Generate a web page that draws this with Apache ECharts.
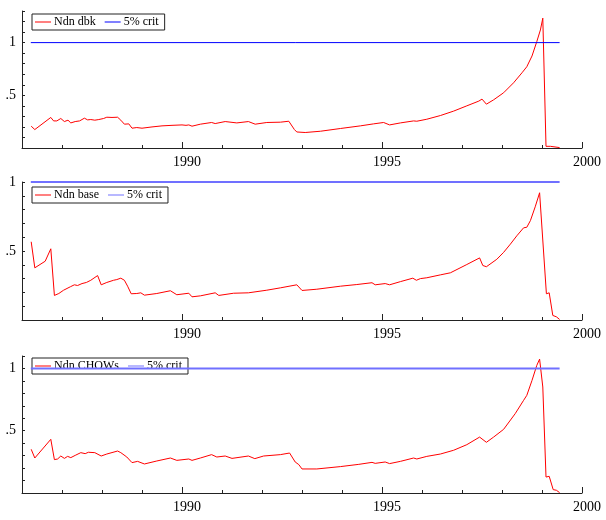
<!DOCTYPE html>
<html>
<head>
<meta charset="utf-8">
<script src="https://cdn.jsdelivr.net/npm/echarts@6/dist/echarts.min.js"></script>
<style>
  html, body { margin: 0; padding: 0; background: #fff; }
  #main { width: 606px; height: 520px; }
</style>
</head>
<body>
<div id="main"></div>
<script>
// tick and label years
var tickYears = [1986, 1987, 1988, 1989, 1990, 1991, 1992, 1993, 1994, 1995, 1996, 1997, 1998, 1999, 2000]
var labelYears = [1990, 1995, 2000]

// 5% critical value line
var critYears = [1986.22, 1999.44]
var critValues = [1, 1]

// Ndn dbk
var dbkYears = [1986.23, 1986.32, 1986.72, 1986.79, 1986.87, 1986.97, 1987.06, 1987.15, 1987.22, 1987.33,
  1987.44, 1987.56, 1987.64, 1987.72, 1987.82, 1987.92, 1988.04, 1988.12, 1988.25, 1988.39,
  1988.47, 1988.56, 1988.67, 1988.75, 1988.87, 1989.0, 1989.25, 1989.5, 1989.75, 1990.0,
  1990.1, 1990.17, 1990.25, 1990.46, 1990.74, 1990.83, 1991.08, 1991.37, 1991.66, 1991.83,
  1992.12, 1992.46, 1992.67, 1992.72, 1992.81, 1992.87, 1993.08, 1993.46, 1993.96, 1994.46,
  1994.79, 1995.04, 1995.19, 1995.46, 1995.79, 1995.87, 1996.12, 1996.46, 1996.79, 1997.12,
  1997.42, 1997.5, 1997.61, 1997.79, 1998.04, 1998.29, 1998.5, 1998.62, 1998.75, 1998.87,
  1998.96, 1999.02, 1999.1, 1999.21, 1999.44]
var dbkValues = [0.207, 0.175, 0.29, 0.257, 0.257, 0.28, 0.251, 0.264, 0.238, 0.251,
  0.257, 0.283, 0.267, 0.27, 0.264, 0.27, 0.28, 0.292, 0.29, 0.292,
  0.264, 0.226, 0.229, 0.188, 0.194, 0.188, 0.2, 0.21, 0.215, 0.219,
  0.215, 0.219, 0.207, 0.226, 0.242, 0.232, 0.251, 0.238, 0.251, 0.226,
  0.242, 0.245, 0.254, 0.238, 0.175, 0.152, 0.147, 0.159, 0.185, 0.21,
  0.229, 0.242, 0.219, 0.238, 0.257, 0.254, 0.273, 0.308, 0.35, 0.4,
  0.445, 0.464, 0.416, 0.457, 0.524, 0.619, 0.714, 0.771, 0.873, 1.01,
  1.12, 1.232, 0.016, 0.016, 0.004]

// Ndn base
var baseYears = [1986.23, 1986.32, 1986.58, 1986.72, 1986.81, 1986.92, 1987.04, 1987.21, 1987.31, 1987.39,
  1987.5, 1987.61, 1987.72, 1987.89, 1987.98, 1988.12, 1988.29, 1988.37, 1988.47, 1988.56,
  1988.64, 1988.73, 1988.87, 1988.97, 1989.06, 1989.37, 1989.71, 1989.87, 1990.17, 1990.25,
  1990.46, 1990.83, 1990.92, 1991.29, 1991.66, 1992.12, 1992.46, 1992.87, 1993.0, 1993.37,
  1993.96, 1994.37, 1994.75, 1994.83, 1995.08, 1995.19, 1995.46, 1995.77, 1995.86, 1995.96,
  1996.12, 1996.46, 1996.71, 1997.12, 1997.44, 1997.52, 1997.61, 1997.87, 1998.04, 1998.21,
  1998.37, 1998.54, 1998.62, 1998.71, 1998.83, 1998.94, 1999.11, 1999.18, 1999.27, 1999.36,
  1999.44]
var baseValues = [0.567, 0.378, 0.426, 0.516, 0.178, 0.192, 0.216, 0.241, 0.255, 0.25,
  0.264, 0.272, 0.288, 0.322, 0.255, 0.272, 0.288, 0.293, 0.303, 0.288,
  0.245, 0.19, 0.192, 0.197, 0.18, 0.192, 0.212, 0.183, 0.194, 0.168,
  0.175, 0.197, 0.178, 0.194, 0.197, 0.216, 0.233, 0.255, 0.214, 0.223,
  0.245, 0.257, 0.27, 0.255, 0.264, 0.255, 0.278, 0.303, 0.288, 0.3,
  0.306, 0.327, 0.342, 0.402, 0.45, 0.395, 0.386, 0.44, 0.49, 0.55,
  0.61, 0.668, 0.672, 0.72, 0.82, 0.922, 0.19, 0.197, 0.033, 0.023,
  0.004]

// Ndn CHOWs
var chowYears = [1986.23, 1986.32, 1986.72, 1986.81, 1986.89, 1986.97, 1987.06, 1987.14, 1987.22, 1987.33,
  1987.47, 1987.58, 1987.66, 1987.82, 1987.98, 1988.12, 1988.39, 1988.47, 1988.62, 1988.75,
  1988.89, 1989.06, 1989.37, 1989.71, 1989.87, 1990.17, 1990.25, 1990.46, 1990.74, 1990.87,
  1991.08, 1991.25, 1991.66, 1991.82, 1992.04, 1992.46, 1992.69, 1992.83, 1992.92, 1993.0,
  1993.37, 1993.96, 1994.42, 1994.75, 1994.83, 1995.08, 1995.19, 1995.46, 1995.79, 1995.87,
  1996.12, 1996.46, 1996.79, 1997.12, 1997.44, 1997.61, 1997.79, 1998.04, 1998.33, 1998.54,
  1998.62, 1998.75, 1998.87, 1998.94, 1999.02, 1999.1, 1999.18, 1999.28, 1999.36, 1999.44]
var chowValues = [0.351, 0.281, 0.431, 0.268, 0.273, 0.297, 0.278, 0.294, 0.284, 0.302,
  0.324, 0.316, 0.327, 0.324, 0.297, 0.313, 0.337, 0.324, 0.289, 0.244,
  0.254, 0.233, 0.257, 0.281, 0.262, 0.273, 0.262, 0.281, 0.308, 0.289,
  0.297, 0.278, 0.297, 0.276, 0.297, 0.308, 0.321, 0.249, 0.228, 0.193,
  0.193, 0.212, 0.23, 0.246, 0.238, 0.249, 0.236, 0.254, 0.281, 0.273,
  0.294, 0.313, 0.343, 0.388, 0.449, 0.407, 0.449, 0.511, 0.637, 0.744,
  0.784, 0.904, 1.025, 1.075, 0.851, 0.128, 0.134, 0.027, 0.022, 0.003]

var panelNames = ['Ndn dbk', 'Ndn base', 'Ndn CHOWs']
var panelYears = [dbkYears, baseYears, chowYears]
var panelValues = [dbkValues, baseValues, chowValues]
var panelMax = [1.3, 1, 1.1]

function zip (xs, ys) {
  var out = []
  for (var i = 0; i < xs.length; i++) out.push([xs[i], ys[i]])
  return out
}

var FONT = 'Liberation Serif'
var AXIS = '#222'

// panel geometry in pixels
var grids = [
  { left: 22, right: 24, top: 11, height: 137, outerBoundsMode: 'none' },
  { left: 22, right: 24, top: 182, height: 138, outerBoundsMode: 'none' },
  { left: 22, right: 24, top: 356, height: 137, outerBoundsMode: 'none' }
]
var legendPos = [
  { left: 32, top: 14 },
  { left: 32, top: 187 },
  { left: 32, top: 358 }
]
var critColors = ['#0000ff', '#7070ff', '#7070ff']
var critWidths = [1, 2, 2]

var option = {
  animation: false,
  backgroundColor: '#fff',
  textStyle: { fontFamily: FONT },
  grid: grids,
  xAxis: [],
  yAxis: [],
  legend: [],
  series: []
}

for (var p = 0; p < 3; p++) {
  // minor ticks axis with the line
  option.xAxis.push({
    type: 'value', gridIndex: p, position: 'bottom', min: 1986, max: 2000,
    axisLine: { show: true, lineStyle: { color: AXIS, width: 1 } },
    axisTick: { show: true, inside: true, length: 3, customValues: tickYears, lineStyle: { color: AXIS } },
    axisLabel: { show: false },
    splitLine: { show: false }
  })
  // major ticks and year labels
  option.xAxis.push({
    type: 'value', gridIndex: p, position: 'bottom', offset: 0, min: 1986, max: 2000,
    axisLine: { show: false },
    axisTick: { show: true, inside: true, length: 6, customValues: labelYears, lineStyle: { color: AXIS } },
    axisLabel: {
      show: true, customValues: labelYears, margin: 7,
      fontFamily: FONT, fontSize: 14, color: '#000',
      padding: [0, 0, 0, 10],
      formatter: function (v) { return String(v) }
    },
    splitLine: { show: false }
  })
  option.yAxis.push({
    type: 'value', gridIndex: p, min: 0, max: panelMax[p], interval: 0.1,
    axisLine: { show: true, lineStyle: { color: AXIS, width: 1 } },
    axisTick: { show: true, inside: true, length: 3, lineStyle: { color: AXIS } },
    axisLabel: {
      show: true, margin: 6, fontFamily: FONT, fontSize: 14, color: '#000',
      showMaxLabel: true,
      formatter: function (v) {
        if (Math.abs(v - 0.5) < 1e-6) return '.5'
        if (Math.abs(v - 1) < 1e-6) return '1'
        return ''
      }
    },
    splitLine: { show: false }
  })
  option.legend.push({
    left: legendPos[p].left, top: legendPos[p].top,
    orient: 'horizontal',
    z: 1,
    backgroundColor: '#fff',
    borderColor: '#222', borderWidth: 1, borderRadius: 0,
    padding: [2, 6, 2, 3],
    itemGap: 9,
    itemWidth: 16, itemHeight: 1,
    icon: 'rect',
    textStyle: { fontFamily: FONT, fontSize: 12, color: '#000', padding: [0, 0, 0, -2] },
    data: [
      { name: panelNames[p], itemStyle: { color: '#ff0000' } },
      { name: '5% crit ' + p, itemStyle: { color: critColors[p] } }
    ],
    formatter: function (n) { return n.indexOf('5% crit') === 0 ? '5% crit' : n }
  })
  option.series.push({
    name: panelNames[p], type: 'line', xAxisIndex: p * 2, yAxisIndex: p,
    data: zip(panelYears[p], panelValues[p]),
    showSymbol: false, symbol: 'none', clip: false, z: 2,
    lineStyle: { color: '#ff0000', width: 1 },
    itemStyle: { color: '#ff0000' }
  })
  option.series.push({
    name: '5% crit ' + p, type: 'line', xAxisIndex: p * 2, yAxisIndex: p,
    data: zip(critYears, critValues),
    showSymbol: false, symbol: 'none', clip: false, z: 2,
    lineStyle: { color: critColors[p], width: critWidths[p] },
    itemStyle: { color: critColors[p] }
  })
}

var chart = echarts.init(document.getElementById('main'), null, { renderer: 'canvas' })
chart.setOption(option)
</script>
</body>
</html>
